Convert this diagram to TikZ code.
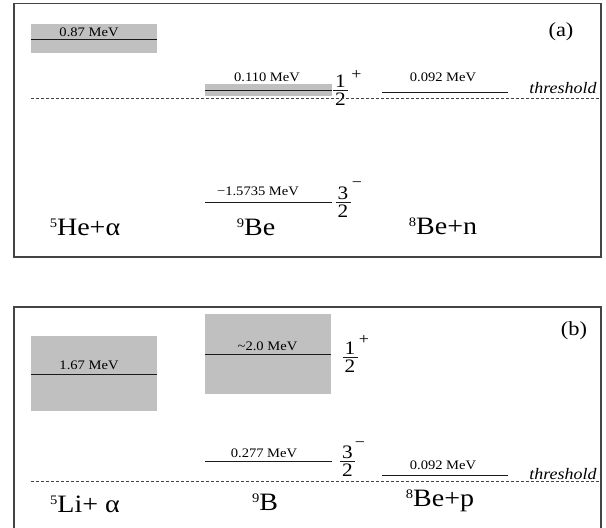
\documentclass[tikz,border=0pt]{standalone}
\usepackage{fontspec}
\setmainfont{Liberation Serif}[FakeStretch=1.12]
\usepackage{tikz}
\usepackage{xcolor}
\definecolor{framegray}{HTML}{444444}
\definecolor{bandgray}{HTML}{C0C0C0}
\definecolor{ink}{HTML}{1A1A1A}
\newcommand{\mevsize}{\fontsize{13}{15}\selectfont}
\newcommand{\iso}[1]{\raisebox{7.9pt}{\fontsize{13}{14}\selectfont #1}}

\begin{document}
\begin{tikzpicture}[x=1pt,y=-1pt,
    mev/.style={font=\mevsize,inner sep=0pt},
    chan/.style={font=\fontsize{25}{27}\selectfont,inner sep=0pt,anchor=base},
    spin/.style={font=\fontsize{19}{21}\selectfont,inner sep=0pt},
    sign/.style={font=\fontsize{16}{17}\selectfont,inner sep=0pt},
    tag/.style={font=\fontsize{20}{22}\selectfont,inner sep=0pt},
    thr/.style={font=\fontsize{16}{18}\selectfont\itshape,inner sep=0pt}]
  \useasboundingbox (0,0) rectangle (606,528);
  % panel (a): 9Be
  \draw[framegray,line width=1.2pt] (14,3.5) rectangle (601,257);
  \fill[bandgray] (31,24) rectangle (157,53);
  \draw[ink,line width=0.9pt] (31,39.3) -- (157,39.3);
  \node[mev] (he5a) at (89,32) {0.87 MeV};
  \node[tag] (taga) at (561,32) {(a)};
  \fill[bandgray] (205,83.5) rectangle (332,96);
  \draw[ink,line width=0.9pt] (205,90.3) -- (332,90.3);
  \node[mev] (be9p) at (267,77.5) {0.110 MeV};
  \node[spin] (ja1n) at (340.5,81.7) {1};
  \node[spin] (ja1d) at (340.5,99.7) {2};
  \draw[ink,line width=0.8pt] (333,90.7) -- (348,90.7);
  \node[sign] (pa1) at (356.5,75) {+};
  \draw[ink,line width=0.8pt] (382,92.7) -- (508,92.7);
  \node[mev] (be8n) at (443,77) {0.092 MeV};
  \draw[framegray,dashed,dash pattern=on 3pt off 2pt,line width=1pt] (31,98.7) -- (601,98.7);
  \node[thr] (thra) at (563,88.5) {threshold};
  \draw[ink,line width=0.8pt] (205,202) -- (332,202);
  \node[mev] (be9g) at (258,191) {\textminus1.5735 MeV};
  \node[spin] (ja2n) at (343,193) {3};
  \node[spin] (ja2d) at (343,211) {2};
  \draw[ink,line width=0.8pt] (335.5,202) -- (350.5,202);
  \node[sign] (pa2) at (357,185) {\textminus};
  \node[chan] (cha1) at (85,235) {\iso{5}He+α};
  \node[chan] (cha2) at (256,235) {\iso{9}Be};
  \node[chan] (cha3) at (443,234) {\iso{8}Be+n};
  % panel (b): 9B
  \draw[framegray,line width=1.2pt] (14,528) -- (14,307) -- (601,307) -- (601,528);
  \fill[bandgray] (31,335.7) rectangle (157,410.7);
  \draw[ink,line width=0.9pt] (31,374) -- (157,374);
  \node[mev] (li5b) at (89,365.7) {1.67 MeV};
  \fill[bandgray] (205,313.5) rectangle (331,393.5);
  \draw[ink,line width=0.9pt] (205,354.3) -- (331,354.3);
  \node[mev] (b9p) at (267.5,346.7) {\textasciitilde2.0 MeV};
  \node[spin] (jb1n) at (350,348) {1};
  \node[spin] (jb1d) at (350,366) {2};
  \draw[ink,line width=0.8pt] (342.5,357) -- (357.5,357);
  \node[sign] (pb1) at (364,340) {+};
  \node[tag] (tagb) at (574,331) {(b)};
  \draw[ink,line width=0.8pt] (205,461.7) -- (332,461.7);
  \node[mev] (b9g) at (264,453.5) {0.277 MeV};
  \node[spin] (jb2n) at (347.5,452.5) {3};
  \node[spin] (jb2d) at (347.5,470.5) {2};
  \draw[ink,line width=0.8pt] (340,461.5) -- (355,461.5);
  \node[sign] (pb2) at (360,445) {\textminus};
  \draw[ink,line width=0.8pt] (382,475.3) -- (508,475.3);
  \node[mev] (be8p) at (443,465.5) {0.092 MeV};
  \draw[framegray,dashed,dash pattern=on 3pt off 2pt,line width=1pt] (31,481) -- (601,481);
  \node[thr] (thrb) at (563,474.5) {threshold};
  \node[chan] (chb1) at (85,512) {\iso{5}Li+ α};
  \node[chan] (chb2) at (265,510.7) {\iso{9}B};
  \node[chan] (chb3) at (440,506) {\iso{8}Be+p};
\end{tikzpicture}
\end{document}
